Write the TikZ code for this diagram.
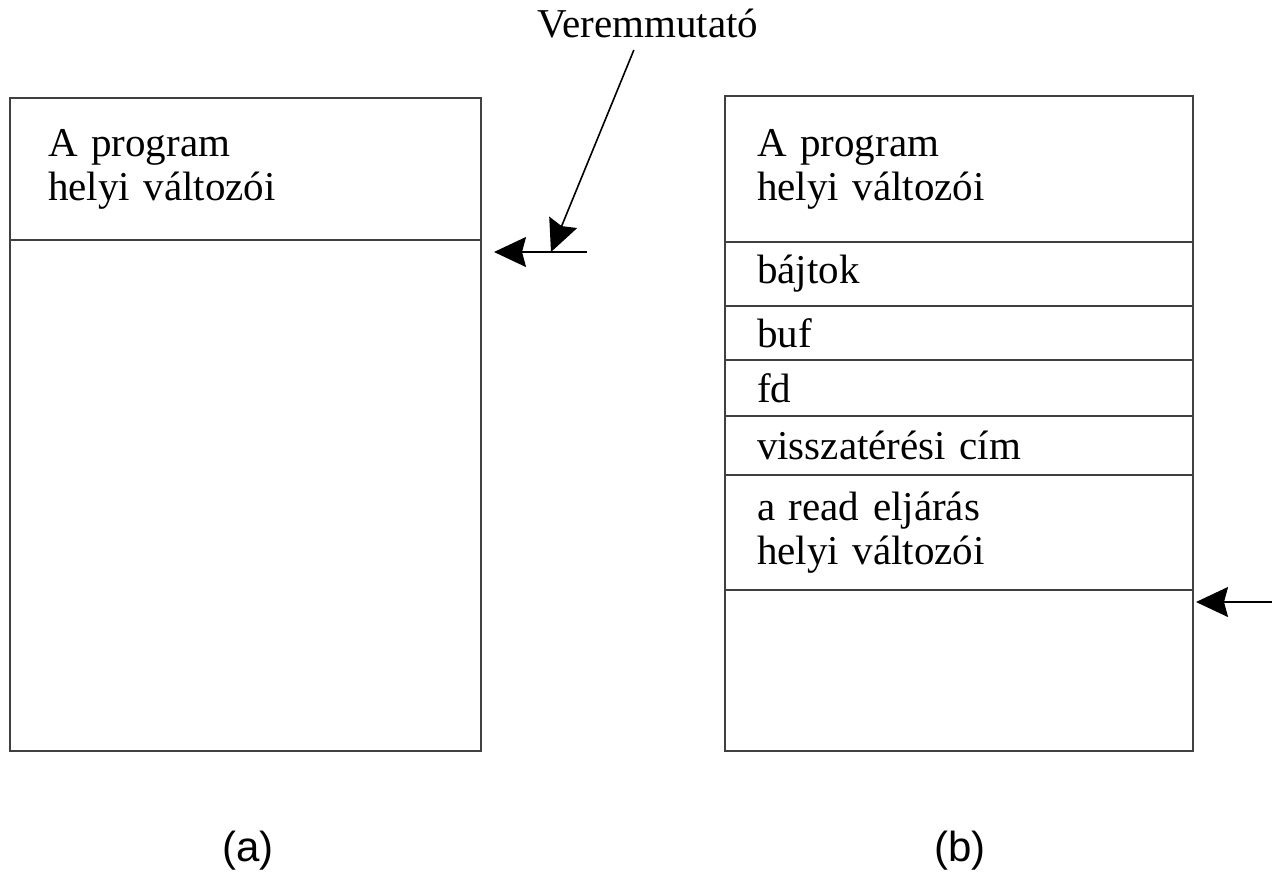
\documentclass[tikz,border=0pt]{standalone}
\usepackage{fontspec}
\setmainfont{Liberation Serif}
\newfontfamily\capfont{Liberation Sans}
\usetikzlibrary{positioning,arrows.meta}
\tikzstyle{cell} = [rectangle, draw=black!75, line width=1pt, outer sep=0pt, inner xsep=16pt, inner ysep=0pt, minimum width=234pt, text width=202pt, align=left, font=\fontsize{20.5}{22}\selectfont]
\tikzstyle{leftcell} = [cell, inner xsep=19pt, minimum width=235.5pt, text width=197.5pt]
\tikzstyle{arrow} = [line width=0.8pt, ->, >={Stealth[length=16pt,width=15pt,inset=2pt]}]
\tikzstyle{caption} = [font=\capfont\fontsize{21}{24}\selectfont]

\begin{document}
\begin{tikzpicture}[x=0.5pt, y=-0.5pt]
\useasboundingbox (0,0) rectangle (1272,874);

% (a) stack before the call
\node (prog1) [leftcell, anchor=north west, minimum height=71pt] at (10,98) {A program\\helyi változói};
\node (free1) [leftcell, below=0pt of prog1, minimum height=255.5pt] {};

% (b) stack during read
\node (prog2) [cell, anchor=north west, minimum height=73pt] at (725,96) {A program\\helyi változói};
\node (bajtok) [cell, below=0pt of prog2, minimum height=32pt] {bájtok};
\node (buf) [cell, below=0pt of bajtok, minimum height=27pt] {buf};
\node (fd) [cell, below=0pt of buf, minimum height=28pt] {fd};
\node (ret) [cell, below=0pt of fd, minimum height=29.5pt] {visszatérési cím};
\node (readvars) [cell, below=0pt of ret, minimum height=57.5pt] {a read eljárás\\helyi változói};
\node (free2) [cell, below=0pt of readvars, minimum height=80.5pt] {};

% stack pointers
\node (vm) [anchor=base west, inner sep=0pt, font=\fontsize{20.5}{22}\selectfont] at (537,37) {Veremmutató};
\coordinate (sp1) at (587,252);
\coordinate (sp2) at (1272,602);

\draw [arrow] (sp1) -- ([shift={(6.5pt,-6pt)}]prog1.south east);
\draw [arrow] ([shift={(-7pt,-6pt)}]vm.south) -- ([xshift=-18pt]sp1);
\draw [arrow] (sp2) -- ([shift={(1.5pt,-6pt)}]readvars.south east);

\node (capa) [caption] at (248,851) {(a)};
\node (capb) [caption] at (960,851) {(b)};
\end{tikzpicture}
\end{document}
